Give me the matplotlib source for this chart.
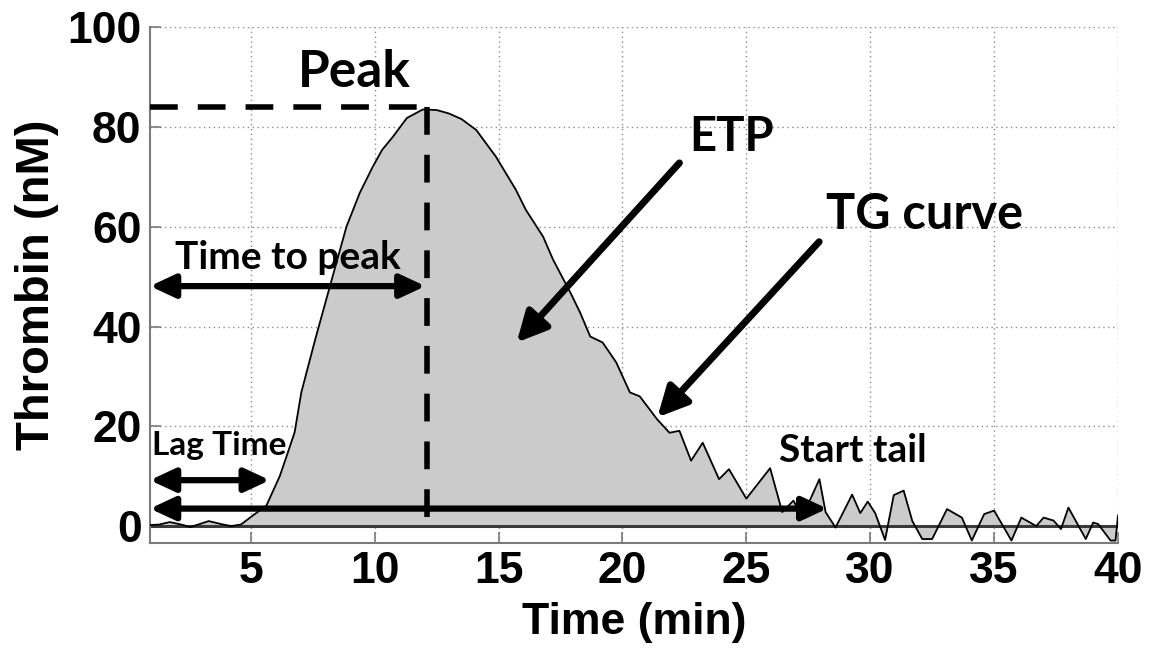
import matplotlib
matplotlib.use("Agg")
import matplotlib.pyplot as plt

# ---- data ----
time_min = [0.93, 1.3, 1.73, 2.2, 2.55, 3.0, 3.3, 3.8, 4.2, 4.6, 5.08, 5.63, 6.17, 6.5,
            6.77, 7.04, 7.6, 8.19, 8.86, 9.4, 9.92, 10.3, 10.73, 11.3, 11.94, 12.5,
            13.0, 13.5, 14.1, 14.9, 15.7, 16.1, 16.8, 17.2, 17.9, 18.3, 18.7, 19.2,
            19.75, 20.3, 20.7, 21.4, 21.9, 22.3, 22.77, 23.24, 23.9, 24.3, 25.0,
            25.96, 26.45, 26.9, 27.26, 27.95, 28.2, 28.6, 29.27, 29.6, 29.9, 30.2,
            30.6, 30.95, 31.35, 31.7, 32.1, 32.5, 33.1, 33.7, 34.1, 34.6, 35.0,
            35.7, 36.1, 36.7, 37.0, 37.4, 37.7, 38.0, 38.7, 39.0, 39.2, 39.7, 39.9, 40.0]
thrombin_nM = [0.2, 0.3, 0.8, 0.3, -0.2, 0.5, 1.0, 0.4, 0.0, 0.3, 2.1, 4.1, 10.0, 14.8,
               18.8, 26.8, 37.4, 48.0, 60.0, 66.8, 72.0, 75.4, 78.0, 81.8, 83.5, 83.4,
               82.7, 81.6, 79.4, 74.0, 67.4, 63.4, 58.0, 53.4, 46.8, 42.7, 38.0, 36.8,
               32.8, 26.8, 26.0, 21.4, 18.7, 19.1, 13.1, 16.7, 9.4, 11.4, 5.5,
               11.6, 2.8, 5.1, 1.8, 9.4, 2.8, -0.3, 6.3, 2.6, 4.9, 2.6,
               -2.8, 6.2, 7.1, 1.0, -2.6, -2.6, 3.4, 1.7, -2.9, 2.4, 3.1,
               -2.9, 1.7, 0.0, 1.7, 1.1, -0.6, 3.7, -2.6, 0.7, 0.4, -2.9, -2.9, 2.1]

x_ticks = [5, 10, 15, 20, 25, 30, 35, 40]
y_ticks = [0, 20, 40, 60, 80, 100]

peak_time = 12.1
peak_value = 84.0
lag_time = 5.77
tail_start = 28.27

fig = plt.figure(figsize=(11.49, 6.48), dpi=100)
ax = fig.add_axes([0.1305, 0.162, 0.8425, 0.796])

tick_font = dict(family="Liberation Sans", weight="bold", size=32)
ann_font = "Lato"

ax.fill_between(time_min, thrombin_nM, 0, color="#cbcbcb", lw=0, zorder=1)
ax.plot(time_min, thrombin_nM, color="black", lw=1.3, zorder=3)
ax.axhline(0, color="#3a3a3a", lw=2.2, zorder=2)

ax.set_xlim(0.93, 40)
ax.set_ylim(-3.4, 100)
ax.set_xticks(x_ticks)
ax.set_yticks(y_ticks)
ax.set_axisbelow(True)
ax.grid(True, linestyle=(0, (1, 2.5)), color="#8c8c8c", lw=1.0)
for s in ["top", "right"]:
    ax.spines[s].set_visible(False)
for s in ["left", "bottom"]:
    ax.spines[s].set_color("#7a7a7a")
    ax.spines[s].set_linewidth(1.5)
ax.tick_params(direction="in", length=8, width=1.2, color="#7a7a7a", pad=6)
for lab in ax.get_xticklabels() + ax.get_yticklabels():
    lab.set_fontfamily("Liberation Sans")
    lab.set_fontweight("bold")
    lab.set_fontsize(32)

ax.set_xlabel("Time (min)", fontdict=tick_font, labelpad=7)
ax.set_ylabel("Thrombin (nM)", fontdict=dict(family="Liberation Sans", weight="bold", size=34), labelpad=6)

# peak dashed lines
ax.plot([0.93, peak_time], [peak_value, peak_value], color="black", lw=4.0,
        linestyle=(0, (5.0, 3.6)), zorder=4)
ax.plot([peak_time, peak_time], [peak_value, 0], color="black", lw=4.0,
        linestyle=(0, (5.0, 3.6)), zorder=4)

def dbl_arrow(x0, x1, y):
    ax.annotate("", xy=(x1, y), xytext=(x0, y),
                arrowprops=dict(arrowstyle="<|-|>,head_length=0.75,head_width=0.35",
                                mutation_scale=20, lw=4.5, color="black",
                                shrinkA=0, shrinkB=0), zorder=5)

dbl_arrow(0.93, peak_time - 0.05, 48.1)
dbl_arrow(0.93, lag_time, 9.2)
dbl_arrow(0.93, tail_start, 3.5)

def one_arrow(start, end):
    ax.annotate("", xy=end, xytext=start,
                arrowprops=dict(arrowstyle="-|>,head_length=0.9,head_width=0.45",
                                mutation_scale=20, lw=5.0, color="black",
                                shrinkA=0, shrinkB=0), zorder=5)

one_arrow((22.30, 72.8), (15.73, 36.8))
one_arrow((27.94, 57.0), (21.41, 21.8))

def label(x, y, s, size):
    ax.text(x, y, s, family=ann_font, weight="bold", size=size,
            ha="center", va="center", zorder=6)

label(9.19, 91.0, "Peak", 37)
label(24.4, 78.0, "ETP", 34)
label(32.2, 62.4, "TG curve", 35)
label(6.49, 53.8, "Time to peak", 28)
label(3.71, 16.2, "Lag Time", 24)
label(29.3, 15.2, "Start tail", 28)

fig.savefig("out.png", dpi=100)
